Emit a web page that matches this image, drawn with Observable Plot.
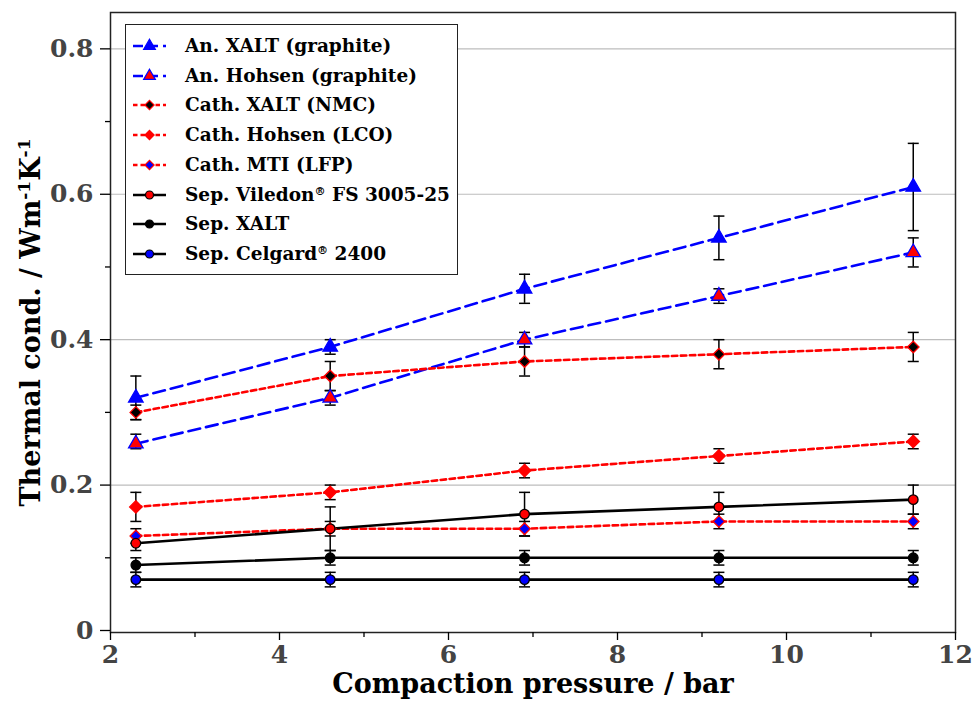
<!DOCTYPE html>
<html><head><meta charset="utf-8">
<script src="https://cdn.jsdelivr.net/npm/d3@7"></script>
<script src="https://cdn.jsdelivr.net/npm/@observablehq/plot@0.6"></script>
<style>
body{margin:0;background:#fff;}
#wrap{position:relative;width:973px;height:713px;font-family:"DejaVu Serif",serif;}
#legend{position:absolute;left:125px;top:24px;width:331px;height:249px;border:1.5px solid #222;background:#fff;font-weight:bold;font-size:18.5px;color:#000;font-family:"DejaVu Serif",serif;}
.row{position:absolute;left:0;height:30px;width:330px;}
.row svg{position:absolute;left:6px;top:5px;}
.row span{position:absolute;left:59px;top:3px;white-space:nowrap;line-height:24px;}
.row sup{font-size:60%;vertical-align:0.55em;line-height:0;}
</style></head>
<body><div id="wrap"></div>
<script>
// ---- data ----
const pressure = [2.3, 4.6, 6.9, 9.2, 11.5];
const seriesNames = ["An. XALT (graphite)", "An. Hohsen (graphite)", "Cath. XALT (NMC)", "Cath. Hohsen (LCO)", "Cath. MTI (LFP)", "Sep. Viledon® FS 3005-25", "Sep. XALT", "Sep. Celgard® 2400"];
const anXALT      = [0.32, 0.39, 0.47, 0.54, 0.61];
const anXALTLow   = [0.29, 0.38, 0.45, 0.51, 0.55];
const anXALTHigh  = [0.35, 0.40, 0.49, 0.57, 0.67];
const anHohsen     = [0.257, 0.32, 0.40, 0.46, 0.52];
const anHohsenLow  = [0.25, 0.31, 0.39, 0.45, 0.50];
const anHohsenHigh = [0.27, 0.33, 0.41, 0.47, 0.54];
const cathXALT     = [0.30, 0.35, 0.37, 0.38, 0.39];
const cathXALTLow  = [0.29, 0.33, 0.35, 0.36, 0.37];
const cathXALTHigh = [0.31, 0.37, 0.39, 0.40, 0.41];
const cathHohsen     = [0.17, 0.19, 0.22, 0.24, 0.26];
const cathHohsenLow  = [0.15, 0.18, 0.21, 0.23, 0.25];
const cathHohsenHigh = [0.19, 0.20, 0.23, 0.25, 0.27];
const cathMTI     = [0.13, 0.14, 0.14, 0.15, 0.15];
const cathMTILow  = [0.12, 0.13, 0.13, 0.14, 0.14];
const cathMTIHigh = [0.14, 0.15, 0.15, 0.16, 0.16];
const sepViledon     = [0.12, 0.14, 0.16, 0.17, 0.18];
const sepViledonLow  = [0.11, 0.11, 0.13, 0.15, 0.16];
const sepViledonHigh = [0.13, 0.17, 0.19, 0.19, 0.20];
const sepXALT     = [0.09, 0.10, 0.10, 0.10, 0.10];
const sepXALTLow  = [0.08, 0.09, 0.09, 0.09, 0.09];
const sepXALTHigh = [0.10, 0.11, 0.11, 0.11, 0.11];
const sepCelgard     = [0.07, 0.07, 0.07, 0.07, 0.07];
const sepCelgardLow  = [0.06, 0.06, 0.06, 0.06, 0.06];
const sepCelgardHigh = [0.08, 0.08, 0.08, 0.08, 0.08];
const xTicks = [2, 4, 6, 8, 10, 12];
const xMinorTicks = [3, 5, 7, 9, 11];
const yTicks = [0, 0.2, 0.4, 0.6, 0.8];
const yMinorTicks = [0.1, 0.3, 0.5, 0.7];
const xTitle = "Compaction pressure / bar";
const yTitle = "Thermal cond. / Wm-1K-1";

// ---- styles ----
const BLUE = "#0000ff", RED = "#ff0000", BLACK = "#000000";
const styles = [
  {vals: anXALT, lo: anXALTLow, hi: anXALTHigh, line: BLUE, dash: "12,6", symbol: "triangle", fill: BLUE, stroke: BLUE, r: 5.4},
  {vals: anHohsen, lo: anHohsenLow, hi: anHohsenHigh, line: BLUE, dash: "12,6", symbol: "triangle", fill: RED, stroke: BLUE, r: 5.4},
  {vals: cathXALT, lo: cathXALTLow, hi: cathXALTHigh, line: RED, dash: "5.5,3.5", symbol: "diamond2", fill: BLACK, stroke: RED, r: 5.2},
  {vals: cathHohsen, lo: cathHohsenLow, hi: cathHohsenHigh, line: RED, dash: "5.5,3.5", symbol: "diamond2", fill: RED, stroke: RED, r: 5.6},
  {vals: cathMTI, lo: cathMTILow, hi: cathMTIHigh, line: RED, dash: "5.5,3.5", symbol: "diamond2", fill: BLUE, stroke: RED, r: 5.2},
  {vals: sepViledon, lo: sepViledonLow, hi: sepViledonHigh, line: BLACK, dash: null, symbol: "circle", fill: RED, stroke: BLACK, r: 4.8},
  {vals: sepXALT, lo: sepXALTLow, hi: sepXALTHigh, line: BLACK, dash: null, symbol: "circle", fill: BLACK, stroke: BLACK, r: 4.8},
  {vals: sepCelgard, lo: sepCelgardLow, hi: sepCelgardHigh, line: BLACK, dash: null, symbol: "circle", fill: BLUE, stroke: BLACK, r: 4.8}
];

const rows = [];
styles.forEach((s, i) => pressure.forEach((p, j) => rows.push({series: seriesNames[i], x: p, y: s.vals[j], lo: s.lo[j], hi: s.hi[j]})));

const cap = {draw(ctx, size) { const w = Math.sqrt(size / Math.PI); ctx.moveTo(-w, 0); ctx.lineTo(w, 0); }};

const FONT = '"DejaVu Serif",serif';
const marks = [
  Plot.gridY(yTicks.filter(d => d > 0), {stroke: "#bdbdbd", strokeOpacity: 1, strokeWidth: 1.2}),
  Plot.frame({stroke: "#222", strokeWidth: 1.5})
];
styles.forEach((s, i) => {
  marks.push(Plot.line(rows.filter(d => d.series === seriesNames[i]), {x: "x", y: "y", stroke: s.line, strokeWidth: 2.6, strokeDasharray: s.dash}));
});
marks.push(Plot.ruleX(rows, {x: "x", y1: "lo", y2: "hi", stroke: "black", strokeWidth: 1.5}));
marks.push(Plot.dot(rows, {x: "x", y: "lo", symbol: cap, r: 5.5, fill: "none", stroke: "black", strokeWidth: 1.5}));
marks.push(Plot.dot(rows, {x: "x", y: "hi", symbol: cap, r: 5.5, fill: "none", stroke: "black", strokeWidth: 1.5}));
styles.forEach((s, i) => {
  marks.push(Plot.dot(rows.filter(d => d.series === seriesNames[i]), {x: "x", y: "y", symbol: s.symbol, r: s.r, fill: s.fill, stroke: s.stroke, strokeWidth: 1.3}));
});
// axes
marks.push(Plot.axisX({ticks: xMinorTicks, tickSize: 5, tickFormat: () => "", stroke: "black", strokeWidth: 1.3, label: null}));
marks.push(Plot.axisY({ticks: yMinorTicks, tickSize: 5, tickFormat: () => "", stroke: "black", strokeWidth: 1.3, label: null}));
marks.push(Plot.axisX({ticks: xTicks, tickSize: 8, tickPadding: 5, tickFormat: d => String(d), stroke: "black", strokeWidth: 1.3, fill: "#444", fontSize: 25, fontWeight: "bold",
  label: xTitle, labelAnchor: "center", labelOffset: 60, labelArrow: "none"}));
marks.push(Plot.axisY({ticks: yTicks, tickSize: 10, tickPadding: 7, tickFormat: d => String(d), stroke: "black", strokeWidth: 1.3, fill: "#444", fontSize: 25, fontWeight: "bold",
  label: yTitle, labelAnchor: "center", labelOffset: 90, labelArrow: "none"}));

const chart = Plot.plot({
  width: 973, height: 713,
  marginLeft: 110, marginRight: 18, marginTop: 12, marginBottom: 81,
  x: {domain: [2, 12]},
  y: {domain: [-0.00275, 0.85]},
  style: {fontFamily: FONT, background: "white", overflow: "visible"},
  marks
});
document.getElementById("wrap").appendChild(chart);

// axis titles: black, with superscripts
chart.querySelectorAll("text").forEach(t => {
  if (t.textContent === xTitle || t.textContent === yTitle) {
    t.setAttribute("fill", "#000");
    t.style.fill = "#000";
    t.setAttribute("font-size", "27");
  }
  if (t.textContent === yTitle) {
    t.textContent = "";
    const parts = [["Thermal cond. / Wm", false], ["-1", true], ["K", false], ["-1", true]];
    parts.forEach(([s, sup]) => {
      const ts = document.createElementNS("http://www.w3.org/2000/svg", "tspan");
      ts.textContent = s;
      if (sup) { ts.setAttribute("baseline-shift", "super"); ts.setAttribute("font-size", "17"); }
      t.appendChild(ts);
    });
  }
});

// legend
const legend = document.createElement("div");
legend.id = "legend";
const labelsHTML = ["An. XALT (graphite)", "An. Hohsen (graphite)", "Cath. XALT (NMC)", "Cath. Hohsen (LCO)", "Cath. MTI (LFP)", "Sep. Viledon<sup>®</sup> FS 3005-25", "Sep. XALT", "Sep. Celgard<sup>®</sup> 2400"];
styles.forEach((s, i) => {
  const row = document.createElement("div");
  row.className = "row";
  row.style.top = (6 + i * 29.7) + "px";
  const sym = {triangle: d3.symbolTriangle, diamond2: d3.symbolDiamond2, circle: d3.symbolCircle}[s.symbol];
  const size = s.symbol === "triangle" ? 60 : s.symbol === "diamond2" ? 55 : 50;
  const path = d3.symbol(sym, size)();
  row.innerHTML = `<svg width="36" height="20" viewBox="0 0 36 20">
    <line x1="1" y1="10" x2="34" y2="10" stroke="${s.line}" stroke-width="2.4" ${s.dash ? `stroke-dasharray="${s.symbol === "triangle" ? "10,5" : "4.5,3"}"` : ""}/>
    <path d="${path}" transform="translate(17.5,10)" fill="${s.fill}" stroke="${s.stroke}" stroke-width="1.2"/>
  </svg><span>${labelsHTML[i]}</span>`;
  legend.appendChild(row);
});
document.getElementById("wrap").appendChild(legend);
</script>
</body></html>
